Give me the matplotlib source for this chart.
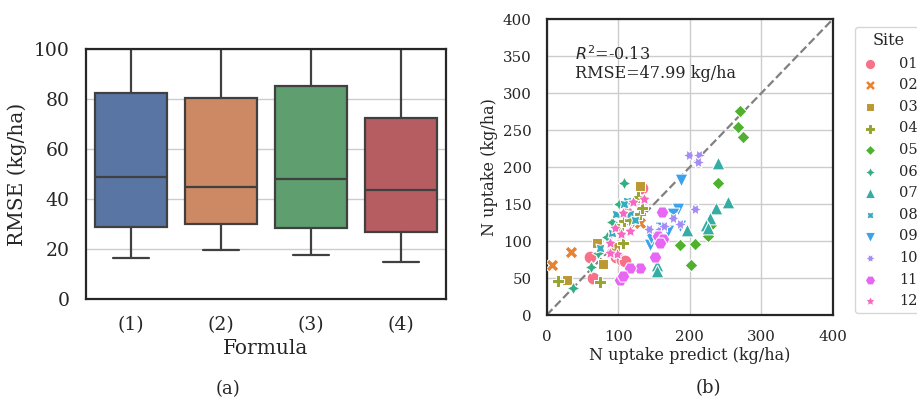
import matplotlib
matplotlib.use("Agg")
import matplotlib.pyplot as plt
import seaborn as sns

# ---------------- data ----------------
formulas = ["(1)", "(2)", "(3)", "(4)"]
whisker_low = [16.5, 19.5, 17.5, 15.0]
q1 = [29.0, 30.2, 28.5, 27.0]
median = [49.0, 45.0, 48.2, 43.5]
q3 = [82.5, 80.5, 85.0, 72.5]
whisker_high = [118.0, 118.0, 118.0, 118.0]

sites = ["01", "02", "03", "04", "05", "06", "07", "08", "09", "10", "11", "12"]
site_x = {
    "01": [60, 65, 97, 105, 109, 133, 112, 115],
    "02": [7, 34, 131],
    "03": [130, 70, 79, 29, 95],
    "04": [16, 75, 106, 108, 116, 130, 133, 128, 100],
    "05": [270, 268, 275, 239, 225, 208, 186, 202, 230],
    "06": [108, 101, 91, 62, 37, 72, 85],
    "07": [239, 253, 237, 228, 223, 196, 154, 154, 225],
    "08": [112, 97, 92, 75, 117, 123, 108],
    "09": [188, 183, 176, 170, 145, 146, 187, 160],
    "10": [199, 213, 211, 208, 143, 158, 164, 177, 187],
    "11": [161, 151, 130, 116, 103, 106, 160, 155, 163, 158],
    "12": [136, 121, 107, 96, 104, 117, 88, 98, 89],
}
site_y = {
    "01": [78, 50, 78, 75, 73, 172, 138, 130],
    "02": [67, 85, 124],
    "03": [174, 97, 69, 47, 92],
    "04": [46, 44, 97, 127, 128, 137, 145, 160, 117],
    "05": [276, 255, 241, 178, 107, 96, 95, 67, 122],
    "06": [178, 150, 126, 65, 37, 84, 105],
    "07": [205, 153, 145, 131, 122, 115, 68, 59, 118],
    "08": [154, 137, 111, 90, 137, 128, 150],
    "09": [183, 144, 137, 113, 95, 104, 120, 118],
    "10": [217, 216, 207, 144, 116, 116, 120, 131, 123],
    "11": [139, 79, 64, 64, 48, 53, 101, 107, 103, 98],
    "12": [157, 153, 138, 118, 109, 114, 98, 83, 84],
}
r2_text = "$R^2$=-0.13\nRMSE=47.99 kg/ha"

# ---------------- style ----------------
sns.set_theme(style="whitegrid")
plt.rcParams["font.family"] = ["DejaVu Serif"]
plt.rcParams["mathtext.fontset"] = "dejavusans"
text_c = "#262626"

fig = plt.figure(figsize=(9.17, 3.99), dpi=100)

# ---------------- left: boxplot ----------------
ax1 = fig.add_axes([0.0938, 0.2506, 0.3926, 0.6266])
deep = sns.color_palette("deep", 4)
box_colors = [sns.desaturate(c, 0.75) for c in deep]
stats = []
for i, lab in enumerate(formulas):
    stats.append(dict(label=lab, whislo=whisker_low[i], q1=q1[i], med=median[i],
                      q3=q3[i], whishi=whisker_high[i], fliers=[]))
line_c = "#404040"
bp = ax1.bxp(stats, positions=range(len(formulas)), widths=0.8, patch_artist=True,
             showfliers=False,
             boxprops=dict(edgecolor=line_c, linewidth=1.6),
             medianprops=dict(color=line_c, linewidth=1.6),
             whiskerprops=dict(color=line_c, linewidth=1.6),
             capprops=dict(color=line_c, linewidth=1.6), capwidths=0.4)
for patch, c in zip(bp["boxes"], box_colors):
    patch.set_facecolor(c)
ax1.set_xlim(-0.5, 3.5)
ax1.set_ylim(0, 100)
ax1.set_yticks([0, 20, 40, 60, 80, 100])
ax1.set_xticks(range(4))
ax1.set_xticklabels(formulas)
ax1.xaxis.grid(False)
ax1.tick_params(labelsize=13.5, colors=text_c, pad=6)
ax1.set_xlabel("Formula", fontsize=14.5, color=text_c, labelpad=4)
ax1.set_ylabel("RMSE (kg/ha)", fontsize=14.5, color=text_c, labelpad=5)
for s in ax1.spines.values():
    s.set_color("#262626")
    s.set_linewidth(1.6)

# ---------------- right: scatter ----------------
ax2 = fig.add_axes([0.5962, 0.2105, 0.3119, 0.7411])
pal = sns.color_palette("husl", len(sites))
base_markers = ["o", "X", (4, 0, 45), "P", (4, 0, 0), (4, 1, 0), "^", (4, 1, 45), "v",
                (6, 1, 30), (6, 0, 30), (5, 1, 0)]
ax2.plot([0, 400], [0, 400], ls="--", color="#808080", lw=1.6, zorder=1)
handles = []
for i, s in enumerate(sites):
    h = ax2.scatter(site_x[s], site_y[s], s=85, marker=base_markers[i], color=pal[i],
                    edgecolor="white", linewidth=0.75, zorder=3, label=s)
    handles.append(h)
ax2.set_xlim(0, 400)
ax2.set_ylim(0, 400)
ax2.set_xticks([0, 100, 200, 300, 400])
ax2.set_yticks(range(0, 401, 50))
ax2.tick_params(labelsize=10.8, colors=text_c, pad=5)
ax2.set_xlabel("N uptake predict (kg/ha)", fontsize=11.5, color=text_c, labelpad=2)
ax2.set_ylabel("N uptake (kg/ha)", fontsize=11.5, color=text_c, labelpad=3)
for sp in ax2.spines.values():
    sp.set_color("#262626")
    sp.set_linewidth(1.6)
ax2.text(40, 340, r2_text, fontsize=11.5, color=text_c, va="center", ha="left",
         linespacing=1.05)
leg = fig.legend(handles=handles, labels=sites, title="Site", loc="upper left",
                 bbox_to_anchor=(855 / 917, 1 - 27 / 399), borderaxespad=0,
                 fontsize=10.5, title_fontsize=11.5, frameon=True, markerscale=0.8,
                 handlelength=1.4, handletextpad=1.3, borderpad=0.35,
                 labelspacing=0.52)
leg.get_frame().set_edgecolor("#cccccc")
for t in leg.get_texts():
    t.set_color(text_c)
leg.get_title().set_color(text_c)

# ---------------- captions ----------------
fig.text(227.7 / 917, 1 - 389 / 399, "(a)", fontsize=13, color=text_c, ha="center", va="center")
fig.text(708 / 917, 1 - 388 / 399, "(b)", fontsize=13, color=text_c, ha="center", va="center")

fig.savefig("out.png", dpi=100)
